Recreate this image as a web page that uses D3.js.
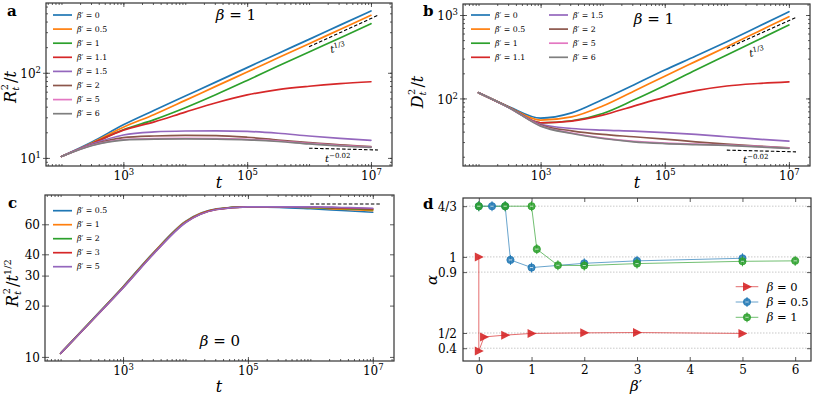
<!DOCTYPE html>
<html>
<head>
<meta charset="utf-8">
<script src="https://cdn.jsdelivr.net/npm/d3@7"></script>
<style>
  body { margin: 0; background: #fff; }
  svg { display: block; }
  text { font-family: 'DejaVu Serif', 'Liberation Serif', serif; fill: #000; }
</style>
</head>
<body>
<svg id="fig" width="813" height="396"></svg>
<script>
// ---- data ----
const tSteps = [100, 316, 1000, 3162, 10000, 31623, 100000, 316228, 1000000, 3162278, 10000000];

const betaPrimeAB = ["0", "0.5", "1", "1.1", "1.5", "2", "5", "6"];
const lineColors = ["#1f77b4", "#ff7f0e", "#2ca02c", "#d62728", "#9467bd", "#8c564b", "#e377c2", "#7f7f7f"];

// panel a : R_t^2 / t  (beta = 1)
const rtA = [
  [10.4, 15.5, 24.5, 36.3, 53.3, 78.2, 115, 169, 247, 363, 533],
  [10.4, 15.1, 22.9, 32.4, 47.4, 69.7, 102, 150, 220, 323, 474],
  [10.4, 14.8, 21.4, 28.2, 38.9, 55.6, 81.3, 120, 176, 257, 378],
  [10.4, 14.8, 21.2, 26.5, 34.5, 44.5, 55, 63.5, 69.5, 74.5, 78.5],
  [10.4, 14.6, 18.6, 20.2, 20.7, 20.8, 20.5, 19.5, 18.1, 17.0, 16.1],
  [10.4, 14.3, 17.3, 18.1, 18.4, 18.3, 17.5, 16.2, 15.1, 14.2, 13.6],
  [10.4, 14.1, 16.4, 16.9, 17.0, 16.9, 16.5, 15.8, 14.8, 14.0, 13.4],
  [10.4, 14.0, 16.2, 16.6, 16.7, 16.6, 16.3, 15.6, 14.6, 13.8, 13.3]
];

// panel b : D_t^2 / t  (beta = 1)
const dtB = [
  [117, 79, 58, 67, 97, 145, 219, 322, 479, 724, 1096],
  [117, 78, 55, 60, 81, 122, 185, 278, 417, 631, 955],
  [117, 78, 51, 54, 66, 95.5, 143, 219, 331, 501, 759],
  [117, 78, 51, 53.5, 63, 81, 103, 124, 141, 151, 158],
  [117, 77, 49, 43.6, 41.7, 40.6, 39, 37, 34.7, 32.5, 30.8],
  [117, 77, 47.9, 40.9, 37, 34.7, 32.5, 30.2, 28.3, 26.8, 25.6],
  [117, 77, 47, 38.5, 33.5, 30.6, 29.2, 28.3, 27.6, 26.6, 25.4],
  [117, 77, 46.6, 38, 33.1, 30.2, 28.8, 28, 27.3, 26.3, 25.1]
];

// panel c : R_t^2 / t^(1/2)  (beta = 0)
const betaPrimeC = ["0.5", "1", "2", "3", "5"];
const rtC = [
  [10.5, 16.4, 25.8, 41.4, 62.3, 73.8, 76, 75.5, 74, 72.3, 70.6],
  [10.5, 16.4, 25.7, 41.2, 62.1, 73.7, 76, 75.8, 75, 73.5, 72.2],
  [10.5, 16.4, 25.6, 41.0, 61.8, 73.5, 76, 76, 75.5, 74.4, 73.2],
  [10.5, 16.3, 25.5, 40.8, 61.6, 73.4, 76, 76, 75.8, 74.8, 73.8],
  [10.5, 16.3, 25.4, 40.6, 61.3, 73.3, 76, 76, 76, 75.3, 74.5]
];

// reference power laws (dashed)
const guideT = [1000000, 13000000];
const guideA13 = [202, 474];
const guideA002 = [13.0, 12.4];
const guideB13 = [398, 935];
const guideB002 = [24.0, 22.9];
const guideC = [79, 79];

// panel d : exponent alpha vs beta'
const betaLabelsD = ["0", "0.5", "1"];
const dColors = ["#d62728", "#1f77b4", "#2ca02c"];
const redX = [0, 0, 0.1, 0.5, 1, 2, 3, 5];
const redY = [1.0, 0.382, 0.474, 0.486, 0.497, 0.501, 0.503, 0.497];
const blueX = [0, 0.25, 0.5, 0.6, 1, 2, 3, 5];
const blueY = [1.333, 1.333, 1.333, 0.98, 0.93, 0.958, 0.974, 0.991];
const greenX = [0, 0.5, 1, 1.1, 1.5, 2, 3, 5, 6];
const greenY = [1.333, 1.333, 1.333, 1.051, 0.945, 0.943, 0.956, 0.971, 0.974];

// tick labels
const tTickLabels = [1000, 100000, 10000000];
const aTickLabels = [10, 100];
const bTickLabels = [100, 1000];
const cTickLabels = [10, 20, 30, 40, 60];
const dXTicks = [0, 1, 2, 3, 4, 5, 6];
const dYTicks = [4 / 3, 1, 0.9, 0.5, 0.4];
const dYTickNames = ["4/3", "1", "0.9", "1/2", "0.4"];

// ---- drawing ----
const svg = d3.select("#fig");
const frameColor = "#333";
const tickFont = 12;

const tDomain = [Math.pow(10, 1.75), Math.pow(10, 7.34)];

function logMinors(domain) {
  const out = [];
  for (let e = -1; e <= 8; e++) {
    for (let k = 1; k <= 9; k++) {
      const v = k * Math.pow(10, e);
      if (v >= domain[0] && v <= domain[1]) out.push(v);
    }
  }
  return out;
}

function tickAxis(g, axisFn, scale, values, size, transform) {
  const a = axisFn(scale).tickValues(values).tickSize(size).tickFormat(() => "");
  const s = g.append("g").attr("transform", transform).call(a);
  s.select(".domain").remove();
  s.selectAll("line").attr("stroke", frameColor).attr("stroke-width", 0.8);
  s.selectAll("text").remove();
  return s;
}

function labelAxis(g, axisFn, scale, values, pad, transform, fmt) {
  const a = axisFn(scale).tickValues(values).tickSize(0).tickPadding(pad);
  if (fmt) a.tickFormat(fmt);
  const s = g.append("g").attr("transform", transform).call(a);
  s.select(".domain").remove();
  s.selectAll("text").attr("font-size", tickFont).attr("fill", "#000");
  return s;
}

function powerText(sel) {
  sel.each(function (d) {
    const e = Math.round(Math.log10(d));
    const t = d3.select(this);
    t.text(null);
    t.append("tspan").text("10");
    t.append("tspan").attr("dy", -5).attr("font-size", 8.5).text(e);
  });
}

function makePanel(x0, y0, x1, y1) {
  const g = svg.append("g").attr("transform", `translate(${x0},${y0})`);
  return { g, w: x1 - x0, h: y1 - y0 };
}

function frame(p) {
  p.g.append("rect").attr("width", p.w).attr("height", p.h)
    .attr("fill", "none").attr("stroke", frameColor).attr("stroke-width", 1.2);
}

function logTicks(p, x, y, yMajors, yMinors) {
  const xMinor = logMinors(x.domain());
  const w = p.w, h = p.h;
  tickAxis(p.g, d3.axisBottom, x, xMinor, -2, `translate(0,${h})`);
  tickAxis(p.g, d3.axisTop, x, xMinor, -2, `translate(0,0)`);
  tickAxis(p.g, d3.axisBottom, x, tTickLabels, -4, `translate(0,${h})`);
  tickAxis(p.g, d3.axisBottom, x, tTickLabels, 3, `translate(0,${h})`);
  tickAxis(p.g, d3.axisTop, x, tTickLabels, -4, `translate(0,0)`);
  tickAxis(p.g, d3.axisLeft, y, yMinors, -2, `translate(0,0)`);
  tickAxis(p.g, d3.axisRight, y, yMinors, -2, `translate(${w},0)`);
  tickAxis(p.g, d3.axisLeft, y, yMajors, -4, `translate(0,0)`);
  tickAxis(p.g, d3.axisLeft, y, yMajors, 3, `translate(0,0)`);
  tickAxis(p.g, d3.axisRight, y, yMajors, -4, `translate(${w},0)`);
  const xl = labelAxis(p.g, d3.axisBottom, x, tTickLabels, 5, `translate(0,${h})`);
  powerText(xl.selectAll("text"));
}

function seriesLine(g, x, y, values, color, width) {
  const line = d3.line()
    .x((d, i) => x(tSteps[i]))
    .y(d => y(d))
    .curve(d3.curveMonotoneX);
  g.append("path").datum(values).attr("d", line)
    .attr("fill", "none").attr("stroke", color)
    .attr("stroke-width", width).attr("stroke-linejoin", "round").attr("stroke-linecap", "round");
}

function dashed(g, x, y, ts, vs) {
  g.append("line")
    .attr("x1", x(ts[0])).attr("y1", y(vs[0]))
    .attr("x2", x(ts[1])).attr("y2", y(vs[1]))
    .attr("stroke", "#000").attr("stroke-width", 1.1).attr("stroke-dasharray", "3.5,2");
}

function legendRows(g, names, colors, x, y0, dy) {
  names.forEach((n, i) => {
    const yy = y0 + i * dy;
    g.append("line").attr("x1", x).attr("x2", x + 19).attr("y1", yy).attr("y2", yy)
      .attr("stroke", colors[i]).attr("stroke-width", 1.7);
    const t = g.append("text").attr("x", x + 24).attr("y", yy + 2.7)
      .attr("font-size", 7.8).attr("fill", "#222");
    t.append("tspan").attr("font-style", "italic").text("β");
    t.append("tspan").text("′ = " + n);
  });
}

function betaTitle(g, x, y, val) {
  const t = g.append("text").attr("x", x).attr("y", y).attr("text-anchor", "middle").attr("font-size", 15);
  t.append("tspan").attr("font-style", "italic").text("β");
  t.append("tspan").text(" = " + val);
}

function tPower(g, x, y, exp, rot) {
  const t = g.append("text").attr("transform", `translate(${x},${y}) rotate(${rot})`).attr("font-size", 10);
  t.append("tspan").attr("font-style", "italic").text("t");
  t.append("tspan").attr("dy", -4).attr("font-size", 7).text(exp);
}

function panelLetter(x, y, s) {
  svg.append("text").attr("x", x).attr("y", y).attr("font-size", 15)
    .attr("font-weight", "bold").text(s);
}

function xLabelT(x, y) {
  svg.append("text").attr("x", x).attr("y", y).attr("text-anchor", "middle")
    .attr("font-size", 16).attr("font-style", "italic").text("t");
}

// Y label like R_t^2 / t
function yLabelFrac(x, y, letter, denomExp) {
  const t = svg.append("text").attr("transform", `translate(${x},${y}) rotate(-90)`)
    .attr("text-anchor", "middle").attr("font-size", 16);
  t.append("tspan").attr("font-style", "italic").text(letter);
  t.append("tspan").attr("font-style", "italic").attr("font-size", 10).attr("dy", 3).text("t");
  t.append("tspan").attr("font-size", 10).attr("dx", -3.5).attr("dy", -11).text("2");
  t.append("tspan").attr("dx", 1).attr("dy", 8).text("/");
  t.append("tspan").attr("font-style", "italic").text("t");
  if (denomExp) t.append("tspan").attr("font-size", 10).attr("dy", -7).text(denomExp);
}

// ---------- panel a ----------
{
  const p = makePanel(46, 3, 392, 166);
  const x = d3.scaleLog().domain(tDomain).range([0, p.w]);
  const y = d3.scaleLog().domain([Math.pow(10, 0.905), Math.pow(10, 2.82)]).range([p.h, 0]);
  rtA.forEach((vals, i) => seriesLine(p.g, x, y, vals, lineColors[i], 1.7));
  dashed(p.g, x, y, guideT, guideA13);
  dashed(p.g, x, y, guideT, guideA002);
  tPower(p.g, 285, 50, "1/3", -12);
  tPower(p.g, 279, 159, "−0.02", 0);
  logTicks(p, x, y, aTickLabels, logMinors(y.domain()));
  const yl = labelAxis(p.g, d3.axisLeft, y, aTickLabels, 5, "translate(0,0)");
  powerText(yl.selectAll("text"));
  yl.selectAll("text").attr("dy", "0.4em");
  legendRows(p.g, betaPrimeAB, lineColors, 7, 12, 14.1);
  betaTitle(p.g, 190, 17, "1");
  frame(p);
}

// ---------- panel b ----------
{
  const p = makePanel(463, 4, 810, 166);
  const x = d3.scaleLog().domain(tDomain).range([0, p.w]);
  const y = d3.scaleLog().domain([Math.pow(10, 1.19), Math.pow(10, 3.132)]).range([p.h, 0]);
  dtB.forEach((vals, i) => seriesLine(p.g, x, y, vals, lineColors[i], 1.7));
  dashed(p.g, x, y, guideT, guideB13);
  dashed(p.g, x, y, guideT, guideB002);
  tPower(p.g, 287, 53, "1/3", -12);
  tPower(p.g, 280, 159, "−0.02", 0);
  logTicks(p, x, y, bTickLabels, logMinors(y.domain()));
  const yl = labelAxis(p.g, d3.axisLeft, y, bTickLabels, 5, "translate(0,0)");
  powerText(yl.selectAll("text"));
  yl.selectAll("text").attr("dy", "0.4em");
  legendRows(p.g, betaPrimeAB.slice(0, 4), lineColors.slice(0, 4), 8, 11, 14.1);
  legendRows(p.g, betaPrimeAB.slice(4), lineColors.slice(4), 86, 11, 14.1);
  betaTitle(p.g, 191, 20, "1");
  frame(p);
}

// ---------- panel c ----------
{
  const p = makePanel(45, 195, 394, 361);
  const x = d3.scaleLog().domain(tDomain).range([0, p.w]);
  const y = d3.scaleLog().domain([Math.pow(10, 0.976), Math.pow(10, 1.95)]).range([p.h, 0]);
  rtC.forEach((vals, i) => seriesLine(p.g, x, y, vals, lineColors[i], 1.7));
  dashed(p.g, x, y, guideT, guideC);
  logTicks(p, x, y, cTickLabels, []);
  const yl = labelAxis(p.g, d3.axisLeft, y, cTickLabels, 5, "translate(0,0)");
  yl.selectAll("text").attr("dy", "0.35em");
  legendRows(p.g, betaPrimeC, lineColors, 8, 15.7, 14);
  betaTitle(p.g, 175, 151, "0");
  frame(p);
}

// ---------- panel d ----------
{
  const p = makePanel(463, 198, 811, 361);
  const x = d3.scaleLinear().domain([-0.3, 6.3]).range([0, p.w]);
  const y = d3.scaleLinear().domain([0.316, 1.387]).range([p.h, 0]);

  // dotted grid
  p.g.selectAll(".grid").data(dYTicks).enter().append("line")
    .attr("x1", 0).attr("x2", p.w).attr("y1", d => y(d)).attr("y2", d => y(d))
    .attr("stroke", "#bbb").attr("stroke-width", 0.8).attr("stroke-dasharray", "1.5,1.5");

  tickAxis(p.g, d3.axisBottom, x, dXTicks, -4, `translate(0,${p.h})`);
  tickAxis(p.g, d3.axisTop, x, dXTicks, -4, "translate(0,0)");
  tickAxis(p.g, d3.axisLeft, y, dYTicks, -4, "translate(0,0)");
  tickAxis(p.g, d3.axisRight, y, dYTicks, -4, `translate(${p.w},0)`);
  labelAxis(p.g, d3.axisBottom, x, dXTicks, 4, `translate(0,${p.h})`, d3.format("d"));
  const yl = labelAxis(p.g, d3.axisLeft, y, dYTicks, 6, "translate(0,0)", (d, i) => dYTickNames[i]);
  yl.selectAll("text").attr("dy", "0.35em");

  const sets = [[redX, redY], [blueX, blueY], [greenX, greenY]];
  const line = d3.line().x(d => x(d[0])).y(d => y(d[1]));
  sets.forEach(([xs, ys], k) => {
    const pts = xs.map((v, i) => [v, ys[i]]);
    p.g.append("path").datum(pts).attr("d", line).attr("fill", "none")
      .attr("stroke", dColors[k]).attr("stroke-width", 0.9).attr("opacity", 0.75);
  });

  function marker(g, cx, cy, k) {
    if (k === 0) {
      g.append("path").attr("d", `M${cx - 4},${cy - 4.5}L${cx + 5},${cy}L${cx - 4},${cy + 4.5}Z`)
        .attr("fill", dColors[0]).attr("opacity", 0.9);
    } else {
      g.append("line").attr("x1", cx).attr("x2", cx).attr("y1", cy - 5).attr("y2", cy + 5)
        .attr("stroke", dColors[k]).attr("stroke-width", 0.9);
      g.append("circle").attr("cx", cx).attr("cy", cy).attr("r", 3.6)
        .attr("fill", dColors[k]).attr("fill-opacity", 0.85).attr("stroke", dColors[k]).attr("stroke-width", 0.8);
      g.append("line").attr("x1", cx - 1.6).attr("x2", cx + 1.6).attr("y1", cy).attr("y2", cy)
        .attr("stroke", "#fff").attr("stroke-width", 0.9).attr("opacity", 0.8);
    }
  }
  sets.forEach(([xs, ys], k) => {
    xs.forEach((v, i) => marker(p.g, x(v), y(ys[i]), k));
  });

  // legend
  betaLabelsD.forEach((n, k) => {
    const yy = 88.7 + k * 15.3;
    p.g.append("line").attr("x1", 272.7).attr("x2", 295.3).attr("y1", yy).attr("y2", yy)
      .attr("stroke", dColors[k]).attr("stroke-width", 0.9).attr("opacity", 0.75);
    marker(p.g, 284, yy, k);
    const t = p.g.append("text").attr("x", 303.7).attr("y", yy + 4).attr("font-size", 11.5);
    t.append("tspan").attr("font-style", "italic").text("β");
    t.append("tspan").text(" = " + n);
  });
  frame(p);
}

// ---------- labels outside the axes ----------
panelLetter(7, 16, "a");
panelLetter(423, 16, "b");
panelLetter(8, 208, "c");
panelLetter(423, 209, "d");

xLabelT(219, 188);
xLabelT(637, 188);
xLabelT(219, 392);

yLabelFrac(16, 87, "R", null);
yLabelFrac(423, 92, "D", null);
yLabelFrac(18, 283, "R", "1/2");

svg.append("text").attr("transform", "translate(437,280) rotate(-90)").attr("text-anchor", "middle")
  .attr("font-size", 15).attr("font-style", "italic").text("α");
{
  const t = svg.append("text").attr("x", 636).attr("y", 391).attr("text-anchor", "middle").attr("font-size", 15);
  t.append("tspan").attr("font-style", "italic").text("β");
  t.append("tspan").text("′");
}
</script>
</body>
</html>
